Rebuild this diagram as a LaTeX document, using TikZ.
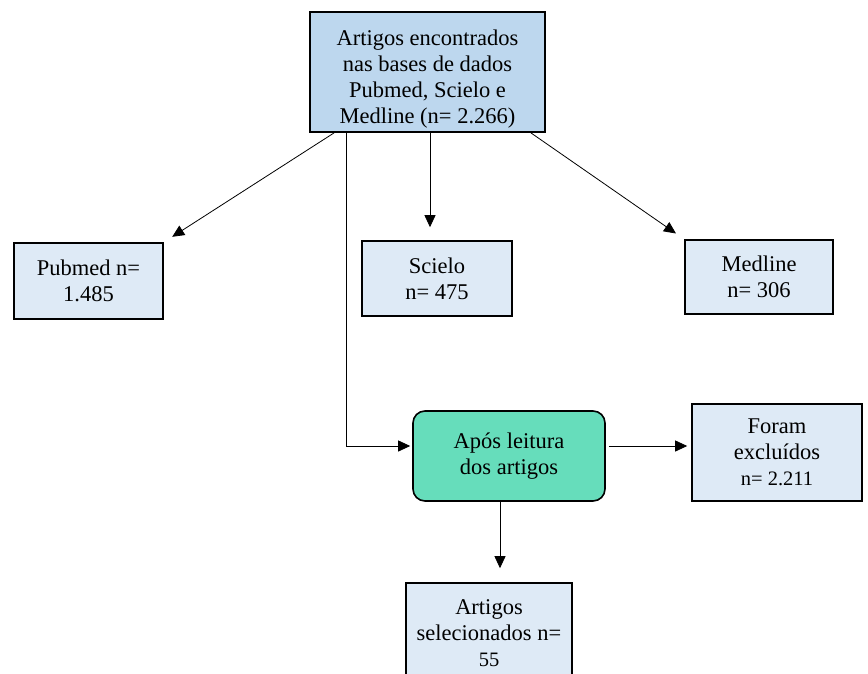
\documentclass[tikz,border=0pt]{standalone}
\usepackage{fontspec}
\setmainfont{Liberation Serif}
\usetikzlibrary{arrows.meta,positioning}

\definecolor{boxblue}{HTML}{BDD7EE}
\definecolor{boxlight}{HTML}{DEEAF6}
\definecolor{boxgreen}{HTML}{66DDBB}

\begin{document}
\begin{tikzpicture}[x=1pt,y=-1pt,
	caixa/.style={draw=black, line width=1.6pt, fill=boxlight, align=center, inner sep=0pt,
		font=\fontsize{22.5}{26}\selectfont},
	seta/.style={-{Triangle[width=11pt,length=12pt]}, line width=0.8pt}]

		\useasboundingbox (0,0) rectangle (868,674);
		\clip (0,0) rectangle (868,674);

		% caixas
		\node[caixa, fill=boxblue, minimum width=235pt, minimum height=120pt] (bases) at (427.5,72)
			{\rule{0pt}{30pt}Artigos encontrados\\nas bases de dados\\Pubmed, Scielo e\\Medline (n= 2.266)};
		\node[caixa, minimum width=149pt, minimum height=76pt] (pubmed) at (88.5,281) {Pubmed n=\\1.485};
		\node[caixa, minimum width=150pt, minimum height=75pt] (scielo) at (437,278.5) {Scielo\\n= 475};
		\node[caixa, minimum width=148pt, minimum height=74pt] (medline) at (759,277) {Medline\\n= 306};
		\node[caixa, fill=boxgreen, rounded corners=12pt, minimum width=192pt, minimum height=90pt] (leitura) at (509,456)
			{Após leitura\\dos artigos};
		\node[caixa, minimum width=170pt, minimum height=97pt] (excluidos) at (777,452.5)
			{Foram\\excluídos\\{\fontsize{20.5}{22}\selectfont n= 2.211}};
		\node[caixa, minimum width=166pt, minimum height=100pt] (selecionados) at (489,633)
			{Artigos\\selecionados n=\\{\fontsize{20.5}{22}\selectfont 55}};

		% setas
		\draw[seta, shorten >=10pt] ([xshift=25pt]bases.south west) -- (pubmed.north east);
		\draw[seta, shorten >=13pt] ([xshift=2.5pt]bases.south) -- ([xshift=-7pt]scielo.north);
		\draw[seta, shorten >=10pt] ([xshift=-15pt]bases.south east) -- (medline.north west);
		\draw[seta, shorten >=2pt] ([xshift=37pt]bases.south west) |- ([yshift=10pt]leitura.west);
		\draw[seta, shorten <=3pt, shorten >=4pt] ([yshift=10pt]leitura.east) -- ([yshift=10pt]leitura.east -| excluidos.west);
		\draw[seta, shorten >=14pt] ([xshift=-9pt]leitura.south) -- ([xshift=-9pt]leitura.south |- selecionados.north);

	\end{tikzpicture}
\end{document}
